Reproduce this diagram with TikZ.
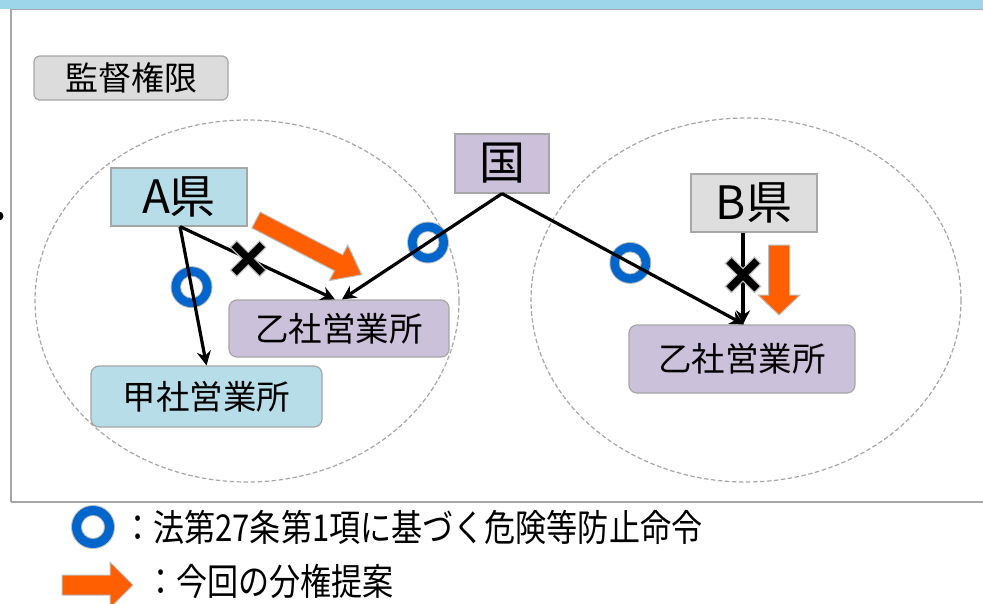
\documentclass[tikz,border=0pt]{standalone}
\usepackage{graphicx}
\usepackage{fontspec}
\setmainfont{Noto Sans CJK JP}
\usetikzlibrary{arrows.meta,calc}
\definecolor{barcyan}{HTML}{9DD5EA}
\definecolor{framegray}{HTML}{A6A6A6}
\definecolor{boxgray}{HTML}{DCDCDC}
\definecolor{lightblue}{HTML}{B7DEE8}
\definecolor{lavender}{HTML}{CCC1DA}
\definecolor{bgray}{HTML}{DEDEDE}
\definecolor{orfill}{HTML}{FF5F00}
\definecolor{ringblue}{HTML}{0066CC}
\definecolor{outgray}{HTML}{BFBFBF}
\newcommand\fsz[1]{\fontsize{#1}{#1}\selectfont}
\newcommand\orarrow[4]{%
  \filldraw[fill=orfill, draw=outgray, line width=1pt]
    (0,#2) -- ({#1-#4},#2) -- ({#1-#4},#3) -- (#1,0) -- ({#1-#4},-#3) -- ({#1-#4},-#2) -- (0,-#2) -- cycle;}
\tikzset{
  box/.style={draw=framegray, line width=1.2pt, inner sep=0pt, anchor=center},
  conn/.style={line width=3.2pt, -{Stealth[length=14pt,width=14pt]}},
  zone/.style={draw=framegray, dash pattern=on 4.5pt off 2.5pt, line width=1.2pt},
  bluering/.pic={
    \fill[outgray, even odd rule] (0,0) circle (21pt) (0,0) circle (10.5pt);
    \fill[ringblue, even odd rule] (0,0) circle (20pt) (0,0) circle (11.5pt);},
  xmark/.pic={
    \draw[line width=10pt, outgray] (-15,-15) -- (15,15) (-15,15) -- (15,-15);
    \draw[line width=7.5pt, black] (-14,-14) -- (14,14) (-14,14) -- (14,-14);}
}
\begin{document}
\begin{tikzpicture}[x=1pt, y=-1pt]
\useasboundingbox (0,0) rectangle (983,603);
% top bar and frame
\fill[barcyan] (0,0) rectangle (983,8.5);
\draw[framegray, line width=1.8pt] (11,502) -- (11,9.5) -- (983,9.5);
\draw[framegray, line width=1.5pt] (11,502) -- (983,502);
\fill[black] (-1,216) circle (4.5pt);
% zones
\draw[zone] (247,301) ellipse [x radius=212, y radius=181];
\draw[zone] (746,300) ellipse [x radius=215, y radius=182];
% nodes
\node[box, rounded corners=6pt, fill=boxgray, minimum width=194pt, minimum height=44pt, font=\fsz{33}] (kantoku) at (131,78) {監督権限\hspace{24pt}};
\node[box, fill=lavender, minimum width=94pt, minimum height=59pt, font=\fsz{46}] (kuni) at (502,163.5) {国\hspace{8pt}};
\node[box, fill=lightblue, minimum width=136pt, minimum height=58pt, font=\fsz{46}] (Aken) at (179,197) {A県\hspace{16pt}};
\node[box, fill=bgray, minimum width=126pt, minimum height=58pt, font=\fsz{46}] (Bken) at (754,203) {B県};
\node[box, rounded corners=8pt, fill=lavender, minimum width=220pt, minimum height=57pt, font=\fsz{33.5}] (otsuL) at (339,328.5) {乙社営業所\hspace{14pt}};
\node[box, rounded corners=8pt, fill=lightblue, minimum width=231pt, minimum height=61pt, font=\fsz{33.5}] (kou) at (206.5,396.5) {甲社営業所\hspace{25pt}};
\node[box, rounded corners=8pt, fill=lavender, minimum width=226pt, minimum height=68pt, font=\fsz{33.5}] (otsuR) at (742,359) {乙社営業所\hspace{17pt}};
% connector ends
\coordinate (aS) at ([xshift=1pt]Aken.south);
\coordinate (kS) at (kuni.south);
\coordinate (oLa) at ([xshift=-4pt]otsuL.north);
\coordinate (oLb) at ([xshift=3pt]otsuL.north);
\coordinate (oRa) at ([xshift=2pt]otsuR.north);
\coordinate (oRb) at ([xshift=1pt]otsuR.north);
\coordinate (bS) at ([xshift=-11pt]Bken.south);
% rings
\pic at ($(aS)!0.436!(kou.north)$) {bluering};
\pic at ($(kS)!0.4625!(oLb)$) {bluering};
\pic at ($(kS)!0.53!(oRa)$) {bluering};
% connectors
\draw[conn] (aS) -- (kou.north);
\draw[conn] (aS) -- (oLa);
\draw[conn] (kS) -- (oLb);
\draw[conn] (kS) -- (oRa);
\draw[conn] (bS) -- (oRb);
% crosses
\pic at ($(aS)!0.44!(oLa)$) {xmark};
\pic at ($(bS)!0.46!(oRb)$) {xmark};
% orange arrows
\begin{scope}[shift={(256,220)}, rotate=-27.4]
  \orarrow{119}{9}{20}{26}
\end{scope}
\begin{scope}[shift={(779,245)}, rotate=-90]
  \orarrow{70}{10.5}{21}{20}
\end{scope}
% legend
\pic[scale=1.05] at (93,527) {bluering};
\node[anchor=west, inner sep=0pt, font=\fsz{37}] (leg1) at (122,527) {\scalebox{0.84}[1]{：法第27条第1項に基づく危険等防止命令}};
\begin{scope}[shift={(62,585)}]
  \orarrow{71}{10}{23}{23}
\end{scope}
\node[anchor=west, inner sep=0pt, font=\fsz{37}] (leg2) at (145,581) {\scalebox{0.84}[1]{：今回の分権提案}};
\end{tikzpicture}
\end{document}
